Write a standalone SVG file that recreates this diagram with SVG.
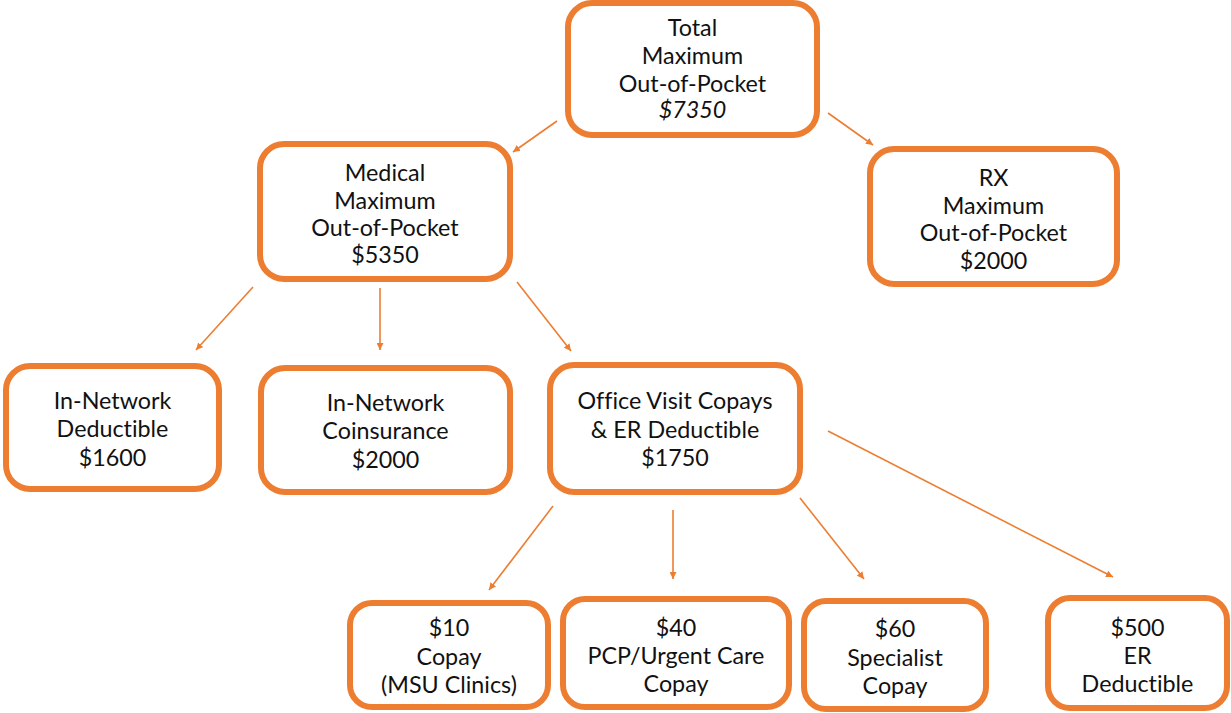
<svg xmlns="http://www.w3.org/2000/svg" width="1231" height="713" viewBox="0 0 1231 713">
<style>
.box{fill:#fff;stroke:#ED7D31;stroke-width:6}
.t{font-family:Lato,"Open Sans","Liberation Sans",sans-serif;font-size:23.3px;fill:#111;text-anchor:middle;font-variant-ligatures:none;font-feature-settings:"liga" 0,"dlig" 0}
.c{stroke:#ED7D31;stroke-width:1.6;fill:none;marker-end:url(#ah)}
</style>
<defs>
<marker id="ah" viewBox="0 0 10 10" refX="10" refY="5" markerWidth="7" markerHeight="7" markerUnits="userSpaceOnUse" orient="auto">
<path d="M0,0 L10,5 L0,10 z" fill="#ED7D31"/>
</marker>
</defs>
<rect width="1231" height="713" fill="#fff"/>
<g id="connectors">
<line class="c" x1="557" y1="121" x2="513" y2="152"/>
<line class="c" x1="828" y1="113" x2="873" y2="145"/>
<line class="c" x1="253" y1="287" x2="196" y2="350"/>
<line class="c" x1="380" y1="288" x2="380" y2="350"/>
<line class="c" x1="517" y1="282" x2="571" y2="351"/>
<line class="c" x1="553" y1="506" x2="489" y2="590"/>
<line class="c" x1="673" y1="510" x2="673" y2="579"/>
<line class="c" x1="800" y1="498" x2="864" y2="579"/>
<line class="c" x1="828" y1="431" x2="1113" y2="577"/>
</g>
<g id="total">
<rect class="box" x="568" y="3" width="249" height="132" rx="24"/>
<text class="t" x="692.5" y="36">Total</text>
<text class="t" x="692.5" y="64">Maximum</text>
<text class="t" x="692.5" y="92">Out-of-Pocket</text>
<text class="t" x="692.5" y="118" font-style="italic">$7350</text>
</g>
<g id="medical">
<rect class="box" x="260" y="144" width="250" height="135" rx="24"/>
<text class="t" x="385" y="181">Medical</text>
<text class="t" x="385" y="209">Maximum</text>
<text class="t" x="385" y="236">Out-of-Pocket</text>
<text class="t" x="385" y="263">$5350</text>
</g>
<g id="rx">
<rect class="box" x="870" y="149" width="247" height="135" rx="24"/>
<text class="t" x="993.5" y="186">RX</text>
<text class="t" x="993.5" y="214">Maximum</text>
<text class="t" x="993.5" y="241">Out-of-Pocket</text>
<text class="t" x="993.5" y="269">$2000</text>
</g>
<g id="deductible">
<rect class="box" x="6" y="366" width="213" height="123" rx="24"/>
<text class="t" x="112.5" y="409">In-Network</text>
<text class="t" x="112.5" y="437">Deductible</text>
<text class="t" x="112.5" y="466">$1600</text>
</g>
<g id="coinsurance">
<rect class="box" x="261" y="368" width="249" height="124" rx="24"/>
<text class="t" x="385.5" y="411">In-Network</text>
<text class="t" x="385.5" y="439">Coinsurance</text>
<text class="t" x="385.5" y="468">$2000</text>
</g>
<g id="office">
<rect class="box" x="550" y="365" width="250" height="127" rx="24"/>
<text class="t" x="675" y="409">Office Visit Copays</text>
<text class="t" x="675" y="438">&amp; ER Deductible</text>
<text class="t" x="675" y="466">$1750</text>
</g>
<g id="copay10">
<rect class="box" x="350" y="603" width="198" height="104" rx="22"/>
<text class="t" x="449" y="636">$10</text>
<text class="t" x="449" y="665">Copay</text>
<text class="t" x="449" y="693">(MSU Clinics)</text>
</g>
<g id="copay40">
<rect class="box" x="563" y="599" width="226" height="108" rx="22"/>
<text class="t" x="676" y="636">$40</text>
<text class="t" x="676" y="664">PCP/Urgent Care</text>
<text class="t" x="676" y="692">Copay</text>
</g>
<g id="copay60">
<rect class="box" x="804" y="601" width="182" height="108" rx="22"/>
<text class="t" x="895" y="637">$60</text>
<text class="t" x="895" y="666">Specialist</text>
<text class="t" x="895" y="694">Copay</text>
</g>
<g id="er500">
<rect class="box" x="1048" y="598" width="179" height="110" rx="22"/>
<text class="t" x="1137.5" y="636">$500</text>
<text class="t" x="1137.5" y="664">ER</text>
<text class="t" x="1137.5" y="692">Deductible</text>
</g>
</svg>
